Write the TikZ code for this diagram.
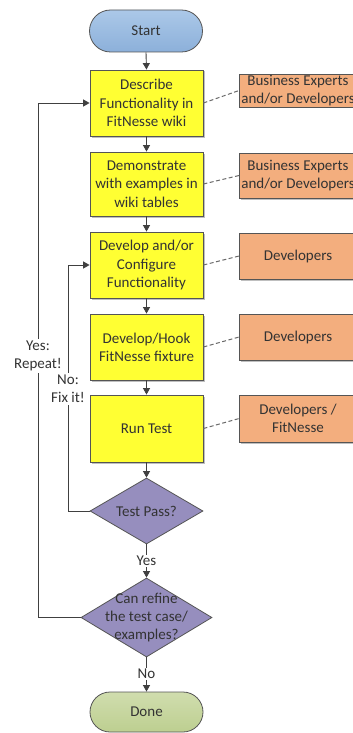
\documentclass[tikz,border=0pt]{standalone}
\usepackage{fontspec}
\setmainfont{Carlito}
\usetikzlibrary{shapes.geometric,shapes.misc,arrows.meta,shadows}
\definecolor{yel}{HTML}{FFFF33}
\definecolor{org}{HTML}{F3AE7E}
\definecolor{purp}{HTML}{968EBE}
\definecolor{bluetop}{HTML}{ABC8E8}
\definecolor{bluebot}{HTML}{8CB0DA}
\definecolor{grntop}{HTML}{D0DDAE}
\definecolor{grnbot}{HTML}{BDCF90}
\definecolor{edge}{HTML}{555555}
\definecolor{txt}{HTML}{333333}
\definecolor{conn}{HTML}{404040}
\definecolor{dashc}{HTML}{6A6A6A}
\begin{document}
\begin{tikzpicture}[x=1pt,y=-1pt,
  every node/.style={font=\fontsize{15}{18.3}\selectfont, text=txt, align=center, inner sep=0pt},
  shad/.style={drop shadow={shadow xshift=1.5pt,shadow yshift=-1.5pt,fill=black,opacity=0.25}},
  term/.style={rounded rectangle, draw=edge, line width=0.8pt, minimum width=113pt, minimum height=42pt},
  proc/.style={rectangle, draw=edge, line width=0.8pt, fill=yel, minimum width=113pt, minimum height=66pt, shad},
  role/.style={rectangle, draw=edge, line width=0.8pt, fill=org, minimum width=117pt, shad},
  dec/.style={diamond, draw=edge, line width=0.8pt, fill=purp},
  arr/.style={draw=conn, line width=0.9pt, -{Triangle[width=7pt,length=6.5pt]}},
  assoc/.style={draw=dashc, line width=1pt, dash pattern=on 4pt off 2.5pt},
  lbl/.style={fill=white, inner sep=1.5pt}]
\useasboundingbox (0,0) rectangle (353,733);
\fill[white] (0,0) rectangle (353,733);

% main column
\node[term, top color=bluetop, bottom color=bluebot] (start) at (146,31) {Start};
\node[proc] (b1) at (146.5,103) {Describe\\Functionality in\\FitNesse wiki};
\node[proc, minimum height=64pt] (b2) at (146.5,184) {Demonstrate\\with examples in\\wiki tables};
\node[proc] (b3) at (146.5,265) {Develop and/or\\Configure\\Functionality};
\node[proc] (b4) at (146.5,347) {Develop/Hook\\FitNesse fixture};
\node[proc, minimum height=67pt] (b5) at (146.5,428.5) {Run Test};
\node[dec, minimum width=113pt, minimum height=66pt] (d1) at (146.5,511) {};
\node at (d1.center) {Test Pass?};
\node[dec, minimum width=131pt, minimum height=79pt] (d2) at (146.5,617.5) {};
\node at (d2.center) {Can refine\\the test case/\\examples?};
\node[term, minimum height=40pt, top color=grntop, bottom color=grnbot] (done) at (146.5,712) {Done};

% roles
\node[role, minimum height=33pt] (r1) at (298,90.5) {Business Experts\\and/or Developers};
\node[role, minimum height=45pt] (r2) at (298,175.5) {Business Experts\\and/or Developers};
\node[role, minimum height=46pt] (r3) at (298,256) {Developers};
\node[role, minimum height=46pt] (r4) at (298,337) {Developers};
\node[role, minimum height=47pt] (r5) at (298,418.5) {Developers /\\FitNesse};

\draw[assoc] (b1.east) -- (r1.west);
\draw[assoc] (b2.east) -- (r2.west);
\draw[assoc] (b3.east) -- (r3.west);
\draw[assoc] (b4.east) -- (r4.west);
\draw[assoc] (b5.east) -- (r5.west);

% flow
\draw[arr] (start.south) -- (b1.north);
\draw[arr] (b1.south) -- (b2.north);
\draw[arr] (b2.south) -- (b3.north);
\draw[arr] (b3.south) -- (b4.north);
\draw[arr] (b4.south) -- (b5.north);
\draw[arr] (b5.south) -- (d1.north);
\draw[arr] (d1.south) -- (d2.north);
\node[lbl] (yes) at (146.5,561) {Yes};
\draw[arr] (d2.south) -- (done.north);
\node[lbl] (no) at (146.5,674) {No};

% loops
\draw[arr] (d2.west) -- (38,617.5) |- (b1.west);
\node[lbl] (rep) at (38,356) {Yes:\\Repeat!};
\draw[arr] (d1.west) -- (68,511) |- (b3.west);
\node[lbl] (fix) at (68,389) {No:\\Fix it!};
\end{tikzpicture}
\end{document}
